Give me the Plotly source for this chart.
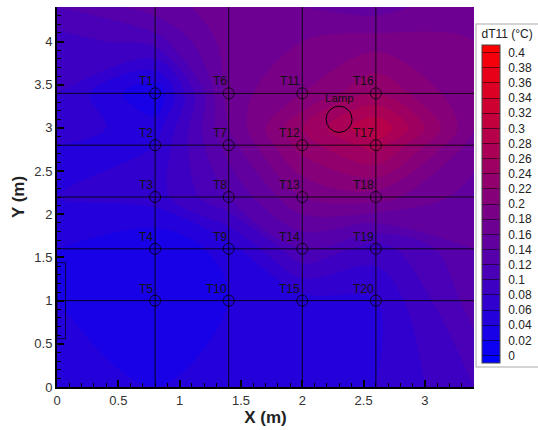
import plotly.graph_objects as go

# grid coordinates (m)
x_grid = [0.0, 0.8, 1.4, 2.0, 2.6, 3.4]
y_grid = [0.0, 1.0, 1.6, 2.2, 2.8, 3.0, 3.4, 4.0, 4.4]
# dT11 values (°C), rows follow y_grid, columns follow x_grid
dT = [
    [0.06, 0.04, 0.05, 0.05, 0.06, 0.10],
    [0.04, 0.02, 0.04, 0.05, 0.06, 0.13],
    [0.04, 0.02, 0.05, 0.12, 0.09, 0.14],
    [0.06, 0.07, 0.12, 0.18, 0.19, 0.15],
    [0.06, 0.06, 0.15, 0.23, 0.27, 0.17],
    [0.07, 0.05, 0.16, 0.24, 0.30, 0.18],
    [0.08, 0.02, 0.17, 0.20, 0.24, 0.18],
    [0.09, 0.11, 0.17, 0.18, 0.19, 0.18],
    [0.12, 0.15, 0.17, 0.16, 0.15, 0.18],
]

# sensors
sensor_names = ["T%d" % i for i in range(1, 21)]
sensor_x = [0.8]*5 + [1.4]*5 + [2.0]*5 + [2.6]*5
sensor_y = [3.4, 2.8, 2.2, 1.6, 1.0]*4
line_x = [0.8, 1.4, 2.0, 2.6]
line_y = [1.0, 1.6, 2.2, 2.8, 3.4]
lamp_x, lamp_y = 2.3, 3.1

font = "Liberation Sans, Arial, sans-serif"

fig = go.Figure()
fig.add_trace(go.Contour(
    x=x_grid, y=y_grid, z=dT,
    colorscale=[[0, "rgb(0,0,255)"], [1, "rgb(255,0,0)"]],
    zmin=-0.01, zmax=0.41,
    contours=dict(start=0, end=0.4, size=0.02, coloring="fill", showlines=False),
    line=dict(width=0),
    colorbar=dict(
        title=dict(text="dT11 (°C)", side="top", font=dict(size=12, color="#222", family=font)),
        x=1.0072, xanchor="left", xpad=5,
        y=0.955, yanchor="top", ypad=2,
        len=341, lenmode="pixels",
        thickness=18,
        tickmode="linear", tick0=0, dtick=0.02,
        ticks="inside", ticklen=18, tickcolor="rgba(0,0,0,0.55)", tickwidth=1,
        tickprefix="\u2009\u2009",
        tickfont=dict(size=12, color="#222", family=font),
        outlinewidth=1, outlinecolor="#444",
        bordercolor="#aaa", borderwidth=1, bgcolor="white",
    ),
    hoverinfo="skip",
))

# sensor circles
fig.add_trace(go.Scatter(
    x=sensor_x, y=sensor_y, mode="markers",
    marker=dict(symbol="circle-open", size=11, color="rgba(0,0,0,0.8)", line=dict(width=1)),
    showlegend=False, hoverinfo="skip",
))

shapes = []
for xv in line_x:
    shapes.append(dict(type="line", xref="x", yref="y", x0=xv, x1=xv, y0=0, y1=4.4,
                       line=dict(color="rgba(0,0,0,0.85)", width=1)))
for yv in line_y:
    shapes.append(dict(type="line", xref="x", yref="y", x0=0, x1=3.4, y0=yv, y1=yv,
                       line=dict(color="rgba(0,0,0,0.85)", width=1)))
# lamp
shapes.append(dict(type="circle", xref="x", yref="y", x0=lamp_x-0.106, x1=lamp_x+0.106,
                   y0=lamp_y-0.152, y1=lamp_y+0.152, line=dict(color="black", width=1)))
# small rectangle on left wall
shapes.append(dict(type="rect", xref="x", yref="y", x0=0.0, x1=0.07, y0=0.56, y1=1.44,
                   line=dict(color="rgba(0,0,0,0.7)", width=1)))

annotations = []
for n, xv, yv in zip(sensor_names, sensor_x, sensor_y):
    annotations.append(dict(x=xv, y=yv, xref="x", yref="y", text=n, showarrow=False,
                            xanchor="right", yanchor="bottom", xshift=0, yshift=3,
                            font=dict(size=12, color="#111", family=font)))
annotations.append(dict(x=lamp_x, y=lamp_y+0.152, xref="x", yref="y", text="Lamp", showarrow=False,
                        xanchor="center", yanchor="bottom", yshift=0,
                        font=dict(size=11.5, color="#111", family=font)))

fig.update_layout(
    width=538, height=430,
    margin=dict(l=57, r=64, t=7, b=43, autoexpand=False),
    paper_bgcolor="white", plot_bgcolor="white",
    shapes=shapes, annotations=annotations,
    showlegend=False,
    xaxis=dict(range=[0, 3.4], tickmode="linear", tick0=0, dtick=0.5,
               ticks="inside", ticklen=7, tickwidth=2, tickcolor="black",
               minor=dict(ticks="inside", ticklen=4, dtick=0.1, tickcolor="black", tickwidth=1),
               showline=True, linewidth=2, linecolor="black", showgrid=False, zeroline=False,
               tickfont=dict(size=13, color="#333", family=font),
               title=dict(text="<b>X (m)</b>", font=dict(size=17, color="#222", family=font), standoff=0)),
    yaxis=dict(range=[0, 4.4], tickmode="linear", tick0=0, dtick=0.5,
               ticks="inside", ticklen=7, tickwidth=2, tickcolor="black",
               minor=dict(ticks="inside", ticklen=4, dtick=0.1, tickcolor="black", tickwidth=1),
               showline=True, linewidth=2, linecolor="black", showgrid=False, zeroline=False,
               tickfont=dict(size=13, color="#333", family=font),
               title=dict(text="<b>Y (m)</b>", font=dict(size=17, color="#222", family=font), standoff=5)),
)

fig.write_html("out.html", config={"displayModeBar": False},
               post_script="document.body.style.margin='0';document.body.style.overflow='hidden';")
